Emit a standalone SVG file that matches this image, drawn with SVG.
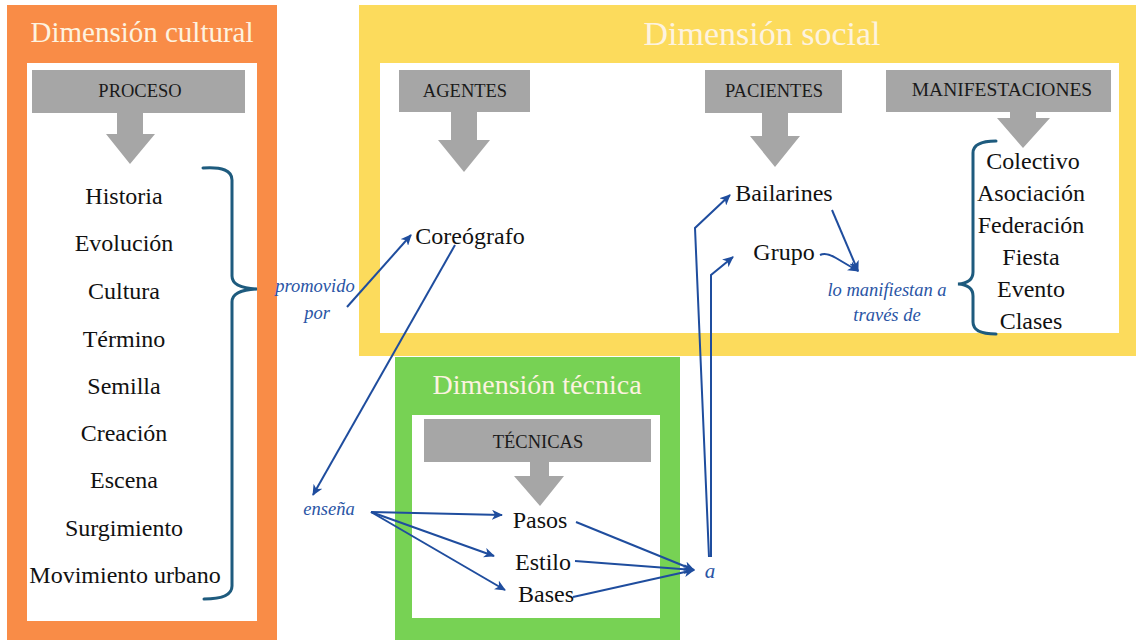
<svg xmlns="http://www.w3.org/2000/svg" width="1136" height="642" viewBox="0 0 1136 642">
<defs>
<style>
text{font-family:'Liberation Serif','Times New Roman',Tinos,'DejaVu Serif',serif}
.title{font-size:29px;fill:#fdf3e0;text-anchor:middle}
.hdr{font-size:18.5px;fill:#1a1a1a;text-anchor:middle}
.item{font-size:24px;fill:#111;text-anchor:middle}
.lbl{font-size:18.5px;font-style:italic;fill:#2a55a5;text-anchor:middle}
.grey{fill:#a6a6a6}
.conn{fill:none;stroke:#1f4d9e;stroke-width:2}
.brace{fill:none;stroke:#1e5b7e;stroke-width:3;stroke-linecap:round}
</style>
<marker id="ah" markerWidth="12" markerHeight="10" refX="10" refY="5" orient="auto" markerUnits="userSpaceOnUse">
<path d="M0,0 L11,5 L0,10 L3,5 Z" fill="#1f4d9e"/>
</marker>
</defs>
<rect width="1136" height="642" fill="#ffffff"/>

<g id="cultural">
<rect x="7" y="5" width="270" height="635" fill="#f98c47"/>
<rect x="27" y="63" width="230" height="558" fill="#ffffff"/>
<text class="title" x="142" y="42">Dimensión cultural</text>
<rect class="grey" x="32" y="70" width="213" height="43"/>
<text class="hdr" x="140" y="97">PROCESO</text>
<path class="grey" d="M117,113 H143 V134 H155 L130,164 L106,134 H117 Z"/>
<text class="item" x="124" y="204">Historia</text>
<text class="item" x="124" y="251">Evolución</text>
<text class="item" x="124" y="299">Cultura</text>
<text class="item" x="124" y="347">Término</text>
<text class="item" x="124" y="394">Semilla</text>
<text class="item" x="124" y="441">Creación</text>
<text class="item" x="124" y="488">Escena</text>
<text class="item" x="124" y="536">Surgimiento</text>
<text class="item" x="125" y="583">Movimiento urbano</text>
<path class="brace" d="M203,168 Q232,166 232,180 L232,276 Q232,288 257,289 Q232,290 232,302 L232,586 Q232,599 204,599"/>
</g>

<g id="social">
<rect x="359" y="5" width="777" height="351" fill="#fcdb5c"/>
<rect x="380" y="63" width="739" height="270" fill="#ffffff"/>
<text class="title" x="762" y="45" style="font-size:34px">Dimensión social</text>
<rect class="grey" x="399" y="70" width="131" height="42"/>
<text class="hdr" x="465" y="97">AGENTES</text>
<path class="grey" d="M451,112 H477 V140 H490 L464,172 L438,140 H451 Z"/>
<rect class="grey" x="705" y="70" width="137" height="43"/>
<text class="hdr" x="774" y="97">PACIENTES</text>
<path class="grey" d="M762,113 H788 V136 H800 L775,167 L750,136 H762 Z"/>
<rect class="grey" x="886" y="70" width="225" height="42"/>
<text class="hdr" x="1002" y="96" style="font-size:19.5px">MANIFESTACIONES</text>
<path class="grey" d="M1010,112 H1036 V118 H1050 L1023,148 L997,118 H1010 Z"/>
<text class="item" x="470" y="244">Coreógrafo</text>
<text class="item" x="784" y="201">Bailarines</text>
<text class="item" x="784" y="260">Grupo</text>
<text class="lbl" x="887" y="296">lo manifiestan a</text>
<text class="lbl" x="887" y="321">través de</text>
<text class="item" x="1033" y="169">Colectivo</text>
<text class="item" x="1031" y="201">Asociación</text>
<text class="item" x="1031" y="233">Federación</text>
<text class="item" x="1031" y="265">Fiesta</text>
<text class="item" x="1031" y="297">Evento</text>
<text class="item" x="1031" y="329">Clases</text>
<path class="brace" d="M996,141 Q973,141 973,153 L973,272 Q973,283 958,284 Q973,285 973,296 L973,322 Q973,334 996,334"/>
</g>

<g id="tecnica">
<rect x="395" y="357" width="285" height="283" fill="#77d254"/>
<rect x="412" y="415" width="248" height="203" fill="#ffffff"/>
<text class="title" x="537" y="394" style="font-size:28px">Dimensión técnica</text>
<rect class="grey" x="424" y="419" width="227" height="43"/>
<text class="hdr" x="538" y="448">TÉCNICAS</text>
<path class="grey" d="M530,462 H549 V476 H564 L540,506 L514,476 H530 Z"/>
<text class="item" x="540" y="528">Pasos</text>
<text class="item" x="543" y="570">Estilo</text>
<text class="item" x="546" y="602">Bases</text>
</g>

<g id="labels">
<text class="lbl" x="315" y="292">promovido</text>
<text class="lbl" x="317" y="319">por</text>
<text class="lbl" x="329" y="515">enseña</text>
<text class="lbl" x="710" y="578" style="font-size:21px">a</text>
</g>

<g id="connectors">
<path class="conn" marker-end="url(#ah)" d="M347,307 L411,235"/>
<path class="conn" marker-end="url(#ah)" d="M455,245 L313,495"/>
<path class="conn" marker-end="url(#ah)" d="M371,512 L502,515"/>
<path class="conn" marker-end="url(#ah)" d="M371,512 L494,556"/>
<path class="conn" marker-end="url(#ah)" d="M371,512 L505,590"/>
<path class="conn" marker-end="url(#ah)" d="M576,522 L694,570"/>
<path class="conn" marker-end="url(#ah)" d="M575,561 L694,570"/>
<path class="conn" marker-end="url(#ah)" d="M573,597 L694,570"/>
<path class="conn" marker-end="url(#ah)" d="M709,557 L695,228 L730,195"/>
<path class="conn" marker-end="url(#ah)" d="M711,557 L711,275 L733,257"/>
<path class="conn" marker-end="url(#ah)" d="M832,210 L858,271"/>
<path class="conn" marker-end="url(#ah)" d="M820,255 Q826,252 836,258 L858,271"/>
</g>
</svg>
